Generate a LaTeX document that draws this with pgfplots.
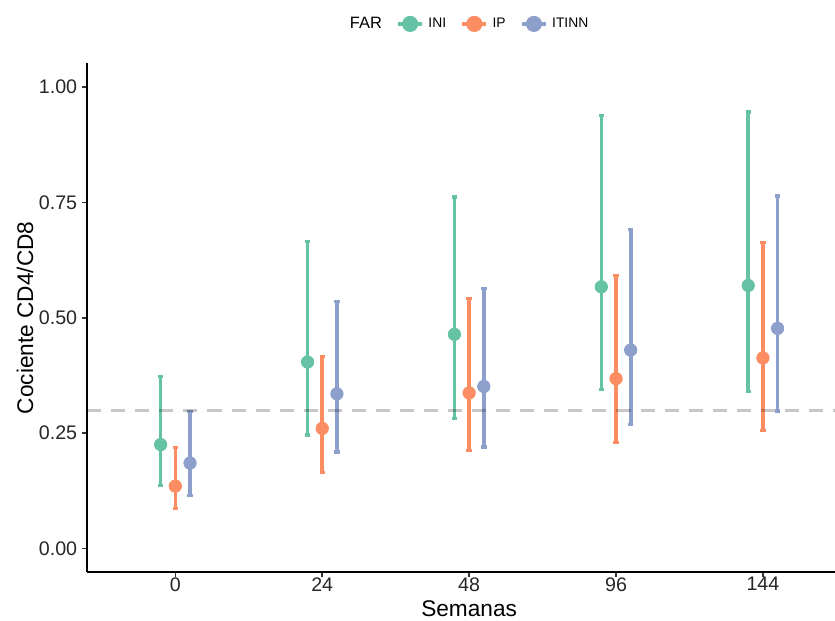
\documentclass[border=0pt]{standalone}
\usepackage{fontspec}
\setmainfont{Liberation Sans}
\usepackage{pgfplots}
\usepackage{pgfplotstable}
\pgfplotsset{compat=1.18}

\definecolor{ini}{HTML}{66C2A5}
\definecolor{ip}{HTML}{FC8D62}
\definecolor{itinn}{HTML}{8DA0CB}

% semana (1..5 = 0,24,48,96,144), media, limite inferior, limite superior
\pgfplotstableread{
x y lo hi
1 0.225 0.137 0.372
2 0.404 0.246 0.665
3 0.464 0.282 0.762
4 0.567 0.344 0.938
5 0.570 0.340 0.946
}\ini
\pgfplotstableread{
x y lo hi
1 0.135 0.086 0.218
2 0.260 0.164 0.416
3 0.337 0.212 0.541
4 0.368 0.230 0.591
5 0.413 0.256 0.664
}\ip
\pgfplotstableread{
x y lo hi
1 0.185 0.114 0.297
2 0.335 0.209 0.536
3 0.351 0.220 0.563
4 0.430 0.269 0.691
5 0.477 0.298 0.764
}\itinn

\pgfplotsset{
  ci/.style={only marks, mark=*, mark size=3.1pt, forget plot,
    error bars/.cd, y dir=both, y explicit,
    error bar style={line width=1.8pt, solid},
    error mark=|,
    error mark options={line width=1.6pt, mark size=1.35pt}},
}

\begin{document}
\begin{tikzpicture}
\useasboundingbox (-43.5pt,-24pt) rectangle (373pt,285.5pt);
\begin{axis}[
    scale only axis,
    width=381pt, height=254pt,
    xmin=0.4, xmax=5.6,
    ymin=-0.052, ymax=1.052,
    axis x line=bottom, axis y line=left,
    axis line style={-, line width=0.9pt, black},
    xtick={1,2,3,4,5},
    xticklabels={0,24,48,96,144},
    ytick={0,0.25,0.5,0.75,1},
    yticklabels={0.00,0.25,0.50,0.75,1.00},
    tick align=outside,
    major tick length=2.5pt,
    tick style={line width=0.75pt, black!80},
    /pgf/number format/assume math mode=true,
    tick label style={font=\fontsize{9.8}{11}\selectfont, text=black!85},
    xticklabel style={yshift=3.5pt},
    yticklabel style={xshift=1pt},
    xlabel={Semanas}, ylabel={Cociente CD4/CD8},
    label style={font=\fontsize{11.3}{13}\selectfont},
    xlabel style={at={(axis description cs:0.5,-0.071)}, anchor=center},
    ylabel style={at={(axis description cs:-0.0814,0.5)}, anchor=center},
    legend columns=-1,
    legend style={draw=none, fill=none, at={(axis description cs:0.5,1.077)},
        anchor=center, font=\fontsize{6.9}{8}\selectfont,
        /tikz/every even column/.append style={column sep=5pt}},
    legend image code/.code={\draw[mark repeat=2,mark phase=2,#1]
        plot coordinates {(0pt,0pt) (6pt,0pt) (12pt,0pt)};},
]
\addplot[color=ini, ci]
    table[x expr=\thisrow{x}-0.1, y=y,
    y error plus expr=\thisrow{hi}-\thisrow{y},
    y error minus expr=\thisrow{y}-\thisrow{lo}] {\ini};
\addplot[color=ip, ci]
    table[x=x, y=y,
    y error plus expr=\thisrow{hi}-\thisrow{y},
    y error minus expr=\thisrow{y}-\thisrow{lo}] {\ip};
\addplot[color=itinn, ci]
    table[x expr=\thisrow{x}+0.1, y=y,
    y error plus expr=\thisrow{hi}-\thisrow{y},
    y error minus expr=\thisrow{y}-\thisrow{lo}] {\itinn};
\addplot[black, opacity=0.22, line width=1.5pt, dash pattern=on 7pt off 5pt, forget plot]
    coordinates {(0.4,0.3) (5.6,0.3)};

\addlegendimage{empty legend}
\addlegendentry{\fontsize{8.2}{9}\selectfont FAR}
\addlegendimage{ini, line width=2.2pt, mark=*, mark size=2.9pt}
\addlegendentry{INI}
\addlegendimage{ip, line width=2.2pt, mark=*, mark size=2.9pt}
\addlegendentry{IP}
\addlegendimage{itinn, line width=2.2pt, mark=*, mark size=2.9pt}
\addlegendentry{ITINN}
\end{axis}
\end{tikzpicture}
\end{document}
